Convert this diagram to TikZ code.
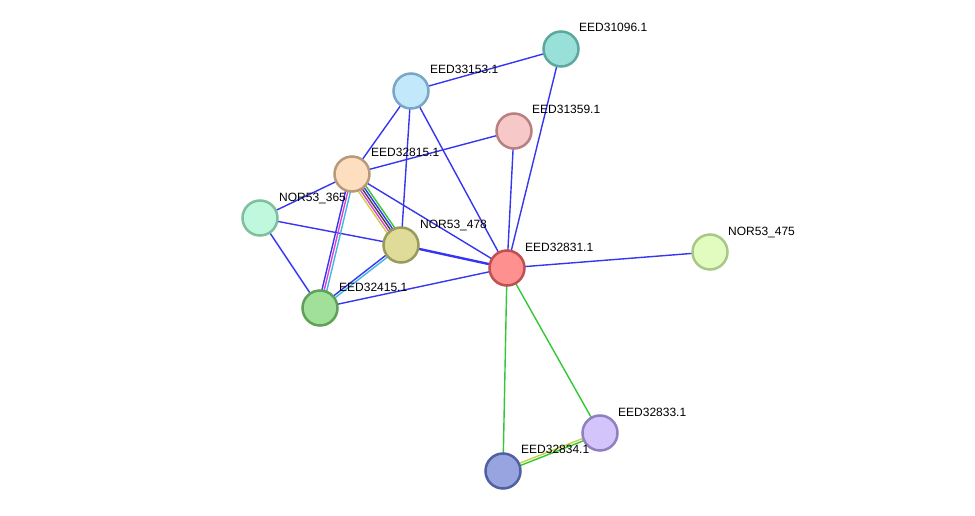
\documentclass[tikz,border=0pt]{standalone}
\usepackage{fontspec}
\setmainfont{Liberation Sans}
\usetikzlibrary{calc,backgrounds}
\definecolor{eblue}{HTML}{3535F2}
\definecolor{egreen}{HTML}{33C833}
\definecolor{eyel}{HTML}{C8D246}
\definecolor{emag}{HTML}{E040D8}
\definecolor{ecyan}{HTML}{40B8E0}
\definecolor{eblack}{HTML}{444444}
\tikzset{
  prot/.style={circle, minimum size=35pt, inner sep=0pt, line width=2.5pt},
  lbl/.style={anchor=base west, font=\fontsize{12pt}{14pt}\selectfont, inner sep=0pt, text=black},
  edge/.style={line width=1.4pt},
}
\newcommand{\pline}[4]{% color, offset, from, to
  \draw[edge,#1] ($(#3.center)!#2!90:(#4.center)$) -- ($(#4.center)!#2!-90:(#3.center)$);}
\begin{document}
\begin{tikzpicture}[x=1pt,y=-1pt]
\useasboundingbox (0,0) rectangle (975,516);
\node[prot, fill={rgb,255:red,152;green,224;blue,216}, draw={rgb,255:red,92;green,168;blue,158}] (n31096) at (561,49) {};
\node[prot, fill={rgb,255:red,194;green,232;blue,251}, draw={rgb,255:red,122;green,166;blue,200}] (n33153) at (411,91) {};
\node[prot, fill={rgb,255:red,247;green,200;blue,200}, draw={rgb,255:red,184;green,128;blue,128}] (n31359) at (514,131) {};
\node[prot, fill={rgb,255:red,253;green,223;blue,192}, draw={rgb,255:red,184;green,154;blue,122}] (n32815) at (352,174) {};
\node[prot, fill={rgb,255:red,191;green,248;blue,220}, draw={rgb,255:red,127;green,191;blue,158}] (n365) at (260,218) {};
\node[prot, fill={rgb,255:red,222;green,220;blue,152}, draw={rgb,255:red,154;green,154;blue,90}] (n478) at (401,245) {};
\node[prot, fill={rgb,255:red,255;green,144;blue,144}, draw={rgb,255:red,192;green,80;blue,80}] (n32831) at (507,268) {};
\node[prot, fill={rgb,255:red,226;green,252;blue,192}, draw={rgb,255:red,168;green,200;blue,136}] (n475) at (710,252) {};
\node[prot, fill={rgb,255:red,160;green,224;blue,152}, draw={rgb,255:red,96;green,160;blue,88}] (n32415) at (320,308) {};
\node[prot, fill={rgb,255:red,212;green,196;blue,252}, draw={rgb,255:red,144;green,128;blue,192}] (n32833) at (600,433) {};
\node[prot, fill={rgb,255:red,152;green,164;blue,224}, draw={rgb,255:red,80;green,96;blue,160}] (n32834) at (503,471) {};

\begin{scope}[on background layer]
\draw[edge,eblue] (n33153.center) -- (n31096.center);
\draw[edge,eblue] (n31096.center) -- (n32831.center);
\draw[edge,eblue] (n33153.center) -- (n32815.center);
\draw[edge,eblue] (n33153.center) -- (n478.center);
\draw[edge,eblue] (n33153.center) -- (n32831.center);
\draw[edge,eblue] (n31359.center) -- (n32815.center);
\draw[edge,eblue] (n31359.center) -- (n32831.center);
\draw[edge,eblue] (n32815.center) -- (n365.center);
\draw[edge,eblue] (n32815.center) -- (n32831.center);
\draw[edge,eblue] (n365.center) -- (n478.center);
\draw[edge,eblue] (n365.center) -- (n32415.center);
\draw[edge,eblue] (n32415.center) -- (n32831.center);
\draw[edge,eblue] (n32831.center) -- (n475.center);
\draw[edge,eblue,line width=2.4pt] (n478.center) -- (n32831.center);
\draw[edge,egreen] (n32831.center) -- (n32833.center);
\draw[edge,egreen] (n32831.center) -- (n32834.center);
% 32815 -- 478 multi
\pline{eyel}{-4.6pt}{n32815}{n478}
\pline{emag}{-2.3pt}{n32815}{n478}
\pline{eblack}{0pt}{n32815}{n478}
\pline{eblue}{2.3pt}{n32815}{n478}
\pline{egreen}{4.6pt}{n32815}{n478}
% 32815 -- 32415
\pline{eblue}{-2.3pt}{n32815}{n32415}
\pline{emag}{0pt}{n32815}{n32415}
\pline{ecyan}{2.6pt}{n32815}{n32415}
% 478 -- 32415
\pline{eblue}{-1.2pt}{n478}{n32415}
\pline{ecyan}{1.2pt}{n478}{n32415}
% 32833 -- 32834
\pline{eyel}{-1.2pt}{n32833}{n32834}
\pline{egreen}{1.2pt}{n32833}{n32834}
\end{scope}

\node[lbl] at (579,32) {EED31096.1};
\node[lbl] at (430,74) {EED33153.1};
\node[lbl] at (532,114) {EED31359.1};
\node[lbl] at (371,157) {EED32815.1};
\node[lbl] at (279,201) {NOR53\_365};
\node[lbl] at (420,228) {NOR53\_478};
\node[lbl] at (525,251) {EED32831.1};
\node[lbl] at (728,235) {NOR53\_475};
\node[lbl] at (339,291) {EED32415.1};
\node[lbl] at (618,416) {EED32833.1};
\node[lbl] at (521,453) {EED32834.1};
\end{tikzpicture}
\end{document}
